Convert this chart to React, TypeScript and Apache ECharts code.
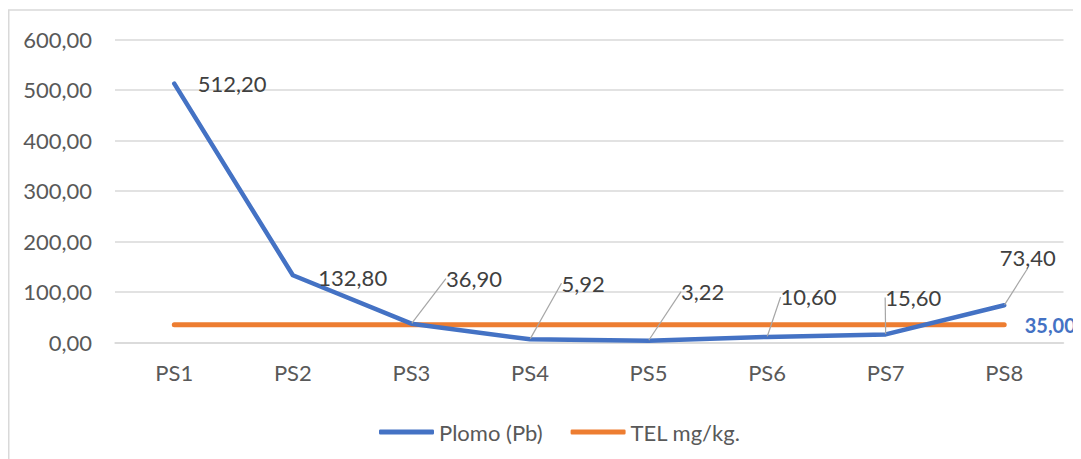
import React, { useEffect, useRef } from "react";
import * as echarts from "echarts";

const categories = ["PS1", "PS2", "PS3", "PS4", "PS5", "PS6", "PS7", "PS8"];
const plomo = [512.2, 132.8, 36.9, 5.92, 3.22, 10.6, 15.6, 73.4];
const tel = [35, 35, 35, 35, 35, 35, 35, 35];
const yTicks = { min: 0, max: 600, interval: 100 };

// label placement (offset of each data label from its point)
const labelOffsets: [number, number][] = [
  [18, 0],
  [20, 2],
  [29, -45],
  [26, -56],
  [27, -49],
  [8, -40],
  [-6, -37],
  [-10, -48],
];
const leaderShown = [false, false, true, true, true, true, true, true];

const FONT = "Lato";
const FS = 22;
const fmt = (v: number) => v.toFixed(2).replace(".", ",");

export default function App() {
  const ref = useRef<HTMLDivElement>(null);
  useEffect(() => {
    const chart = echarts.init(ref.current!, null, { renderer: "svg" });
    chart.setOption({
      animation: false,
      textStyle: { fontFamily: FONT },
      graphic: [
        { type: "line", shape: { x1: 0, y1: 2, x2: 1073, y2: 2 }, style: { stroke: "#d9d9d9", lineWidth: 1.5 } },
        { type: "line", shape: { x1: 0.75, y1: 2, x2: 0.75, y2: 451 }, style: { stroke: "#d9d9d9", lineWidth: 1.5 } },
      ],
      grid: { left: 107, right: 17.5, top: 31.3, bottom: 116.7, containLabel: false },
      legend: {
        left: 366,
        top: 408,
        itemGap: 28,
        itemWidth: 55,
        itemHeight: 5,
        icon: "roundRect",
        textStyle: { fontFamily: FONT, fontSize: FS, color: "#595959" },
        data: ["Plomo (Pb)", "TEL mg/kg."],
      },
      xAxis: {
        type: "category",
        data: categories,
        boundaryGap: true,
        axisLine: { show: true, lineStyle: { color: "#d9d9d9", width: 1.5 } },
        axisTick: { show: false },
        axisLabel: { margin: 19, fontFamily: FONT, fontSize: FS, color: "#595959" },
      },
      yAxis: {
        type: "value",
        min: yTicks.min,
        max: yTicks.max,
        interval: yTicks.interval,
        axisLine: { show: false },
        axisTick: { show: false },
        splitLine: { lineStyle: { color: "#d9d9d9", width: 1.5 } },
        axisLabel: {
          margin: 23,
          fontFamily: FONT,
          fontSize: FS,
          color: "#595959",
          formatter: (v: number) => fmt(v),
        },
      },
      series: [
        {
          name: "TEL mg/kg.",
          type: "line",
          data: tel.map((v, i) => ({
            value: v,
            label: i === tel.length - 1 ? { show: true } : { show: false },
          })),
          symbol: "circle",
          symbolSize: 1,
          lineStyle: { color: "#ED7D31", width: 5, cap: "round" },
          itemStyle: { color: "#ED7D31" },
          label: {
            position: "right",
            distance: 20,
            color: "#4472C4",
            fontWeight: "bold",
            fontFamily: FONT,
            fontSize: 20,
            formatter: (p: any) => fmt(p.value),
          },
          z: 2,
        },
        {
          name: "Plomo (Pb)",
          type: "line",
          data: plomo.map((v, i) => ({
            value: v,
            labelLine: { show: leaderShown[i] },
          })),
          symbol: "circle",
          symbolSize: 1,
          lineStyle: { color: "#4472C4", width: 4.5, cap: "round", join: "round" },
          itemStyle: { color: "#4472C4" },
          label: {
            show: true,
            position: "right",
            distance: 5,
            color: "#404040",
            fontFamily: FONT,
            fontSize: FS,
            formatter: (p: any) => fmt(p.value),
          },
          labelLine: { show: true, lineStyle: { color: "#a6a6a6", width: 1.2 } },
          labelLayout: (params: any) => {
            const o = labelOffsets[params.dataIndex] || [0, 0];
            return { dx: o[0], dy: o[1] };
          },
          z: 3,
        },
      ],
    });
    return () => chart.dispose();
  }, []);
  return <div ref={ref} style={{ width: 1073, height: 451 }} />;
}
